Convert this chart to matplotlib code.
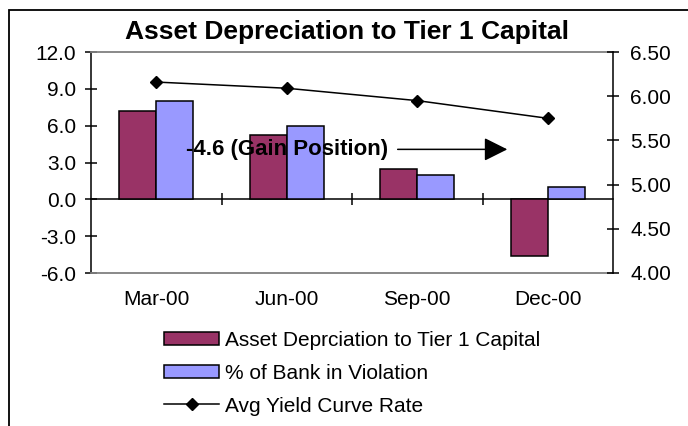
import numpy as np
import matplotlib
matplotlib.use("Agg")
import matplotlib.pyplot as plt
from matplotlib.patches import Rectangle

plt.rcParams["font.family"] = ["Liberation Sans", "DejaVu Sans"]
plt.rcParams["axes.unicode_minus"] = False

#%% data
quarters = ["Mar-00", "Jun-00", "Sep-00", "Dec-00"]
asset_dep = [7.2, 5.2, 2.5, -4.6]
bank_violation = [8.0, 6.0, 2.0, 1.0]
yield_rate = [6.16, 6.09, 5.95, 5.75]

left_ticks = np.arange(-6, 12.1, 3)
right_ticks = np.arange(4.0, 6.51, 0.5)

maroon = "#993366"
lilac = "#9999FF"

#%% figure
fig = plt.figure(figsize=(6.88, 4.26), dpi=100)
ax = fig.add_axes([91/688, 1 - 273/426, (613 - 91)/688, (273 - 52)/426])

x = np.arange(len(quarters))
w = 0.285
b1 = ax.bar(x - w/2, asset_dep, w, color=maroon, edgecolor="black", linewidth=1.1,
            label="Asset Deprciation to Tier 1 Capital")
b2 = ax.bar(x + w/2, bank_violation, w, color=lilac, edgecolor="black", linewidth=1.1,
            label="% of Bank in Violation")

ax.set_xlim(-0.5, len(quarters) - 0.5)
ax.set_ylim(-6, 12)
ax.set_yticks(left_ticks)
ax.set_yticklabels(["%.1f" % v for v in left_ticks])
ax.set_xticks(x)
ax.set_xticklabels(quarters)
ax.tick_params(axis="x", length=0, pad=12, labelsize=15)
ax.tick_params(axis="y", direction="inout", length=9, width=1.1, pad=6, labelsize=15)

for s in ["top", "bottom"]:
    ax.spines[s].set_color("#808080")
    ax.spines[s].set_linewidth(1.3)
ax.spines["left"].set_linewidth(1.1)
ax.spines["right"].set_visible(False)

# zero line with category dividers
zero = ax.secondary_xaxis(6/18)
zero.set_xticks(np.arange(0.5, len(quarters) - 1, 1.0))
zero.set_xticklabels([])
zero.tick_params(direction="inout", length=9, width=1.1)
zero.spines["bottom"].set_linewidth(1.1)

# right axis
ax2 = ax.twinx()
ln, = ax2.plot(x, yield_rate, color="black", lw=1.1, marker="D", markersize=6,
               label="Avg Yield Curve Rate")
ax2.set_ylim(4.0, 6.5)
ax2.set_yticks(right_ticks)
ax2.set_yticklabels(["%.2f" % v for v in right_ticks])
ax2.tick_params(axis="y", direction="inout", length=9, width=1.1, pad=8, labelsize=15)
for s in ["top", "bottom", "left"]:
    ax2.spines[s].set_visible(False)
ax2.spines["right"].set_linewidth(1.1)

# annotation
ax.text(0.23, 4.07, "-4.6 (Gain Position)", fontsize=16, fontweight="bold",
        ha="left", va="center", zorder=5)
ax.annotate("", xy=(2.69, 4.07), xytext=(1.85, 4.07),
            arrowprops=dict(arrowstyle="-|>", mutation_scale=36, lw=1.1, color="black",
                            shrinkA=0, shrinkB=0))

fig.text(347/688, 1 - 32/426, "Asset Depreciation to Tier 1 Capital", fontsize=19,
         fontweight="bold", ha="center", va="center")

fig.legend([b1, b2, ln], [b1.get_label(), b2.get_label(), ln.get_label()],
           loc="upper left", bbox_to_anchor=(164/688, 1 - 331/426), frameon=False,
           fontsize=15, borderpad=0, borderaxespad=0, handlelength=2.64,
           handleheight=0.62, handletextpad=0.3, labelspacing=0.66)

# chart frame
fig.patches.append(Rectangle((9/688, -0.2), 2, 1.2 - 10/426, transform=fig.transFigure,
                             fill=False, edgecolor="black", lw=1.3))

fig.savefig("out.png", dpi=100)
